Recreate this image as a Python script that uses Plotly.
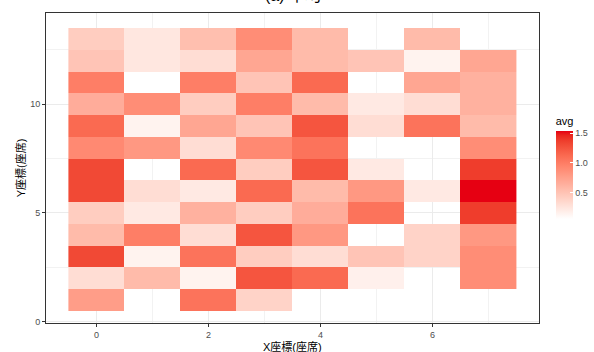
import plotly.graph_objects as go

# ---- data ----
x_vals = [0, 1, 2, 3, 4, 5, 6, 7]
y_vals = [1, 2, 3, 4, 5, 6, 7, 8, 9, 10, 11, 12, 13]
# one list per x column, values for y = 1..13 (None = no tile)
col0 = [0.78, 0.32, 1.32, 0.57, 0.44, 1.32, 1.32, 0.92, 1.13, 0.67, 1.00, 0.50, 0.44]
col1 = [None, 0.57, 0.16, 1.00, 0.23, 0.32, None, 0.82, 0.16, 0.89, 0.07, 0.25, 0.25]
col2 = [1.07, 0.16, 1.07, 0.32, 0.64, 0.23, 1.13, 0.32, 0.72, 0.44, 1.00, 0.32, 0.54]
col3 = [0.39, 1.25, 0.44, 1.25, 0.44, 1.13, 0.44, 0.92, 0.50, 1.00, 0.50, 0.72, 0.89]
col4 = [None, 1.13, 0.32, 0.82, 0.67, 0.57, 1.25, 1.07, 1.25, 0.57, 1.13, 0.57, 0.57]
col5 = [None, 0.18, 0.50, None, 1.07, 0.82, 0.23, None, 0.32, 0.23, None, 0.50, None]
col6 = [None, None, 0.39, 0.39, None, 0.23, None, None, 1.07, 0.32, 0.72, 0.16, 0.57]
col7 = [None, 0.89, 0.89, 0.82, 1.38, 1.54, 1.38, 0.89, 0.57, 0.64, 0.64, 0.72, None]
columns = [col0, col1, col2, col3, col4, col5, col6, col7]

x_ticks = [0, 2, 4, 6]
y_ticks = [0, 5, 10]
cbar_ticks = [0.5, 1.0, 1.5]

title_text = "(a) 平均"
x_title = "X座標(座席)"
y_title = "Y座標(座席)"
legend_title = "avg"

# z matrix: rows = y, cols = x
z = [[columns[i][j] for i in range(len(x_vals))] for j in range(len(y_vals))]


# ---- Lab colour interpolation (like ggplot's scale_fill_gradient) ----
def srgb_to_lin(c):
    c = c / 255.0
    return c / 12.92 if c <= 0.04045 else ((c + 0.055) / 1.055) ** 2.4


def lin_to_srgb(c):
    c = max(0.0, min(1.0, c))
    v = 12.92 * c if c <= 0.0031308 else 1.055 * c ** (1 / 2.4) - 0.055
    return int(round(v * 255))


def rgb_to_lab(rgb):
    r, g, b = [srgb_to_lin(v) for v in rgb]
    X = 0.4124 * r + 0.3576 * g + 0.1805 * b
    Y = 0.2126 * r + 0.7152 * g + 0.0722 * b
    Z = 0.0193 * r + 0.1192 * g + 0.9505 * b
    def f(t):
        return t ** (1 / 3) if t > 0.008856 else 7.787 * t + 16 / 116
    fx, fy, fz = f(X / 0.95047), f(Y), f(Z / 1.08883)
    return (116 * fy - 16, 500 * (fx - fy), 200 * (fy - fz))


def lab_to_rgb(lab):
    L, a, b = lab
    fy = (L + 16) / 116
    fx = fy + a / 500
    fz = fy - b / 200
    def finv(t):
        return t ** 3 if t ** 3 > 0.008856 else (t - 16 / 116) / 7.787
    X, Y, Z = 0.95047 * finv(fx), finv(fy), 1.08883 * finv(fz)
    r = 3.2406 * X - 1.5372 * Y - 0.4986 * Z
    g = -0.9689 * X + 1.8758 * Y + 0.0415 * Z
    bb = 0.0557 * X - 0.2040 * Y + 1.0570 * Z
    return (lin_to_srgb(r), lin_to_srgb(g), lin_to_srgb(bb))


low = rgb_to_lab((255, 255, 255))
high = rgb_to_lab((230, 0, 18))
n = 20
colorscale = []
for k in range(n + 1):
    t = k / n
    lab = tuple(low[i] + (high[i] - low[i]) * t for i in range(3))
    r, g, b = lab_to_rgb(lab)
    colorscale.append([t, f"rgb({r},{g},{b})"])

font_family = "Liberation Sans, Arial, Noto Sans CJK JP, sans-serif"

fig = go.Figure()
fig.add_trace(go.Heatmap(
    x=x_vals, y=y_vals, z=z,
    colorscale=colorscale,
    hoverongaps=False,
    colorbar=dict(
        title=dict(text=legend_title, side="top",
                   font=dict(size=11, color="#000000", family=font_family)),
        x=1.034, xanchor="left", xref="paper",
        y=0.506, yanchor="middle", yref="paper",
        len=105, lenmode="pixels",
        thickness=17, thicknessmode="pixels",
        outlinewidth=0,
        ticks="inside", ticklen=3, tickcolor="white", tickwidth=1,
        tickvals=cbar_ticks, tickformat=".1f",
        tickfont=dict(size=9, color="#4D4D4D", family=font_family),
        xpad=0, ypad=0,
    ),
))

# plot title (cut off at the top edge, as in the reference)
fig.add_annotation(
    text=title_text, xref="paper", yref="paper", x=0.5, y=1.0,
    xanchor="center", yanchor="bottom", yshift=7, showarrow=False,
    font=dict(size=16, color="#000000", family=font_family),
)
# x-axis title
fig.add_annotation(
    text=x_title, xref="paper", yref="paper", x=0.5, y=0.0,
    xanchor="center", yanchor="middle", yshift=-23, showarrow=False,
    font=dict(size=11, color="#000000", family=font_family),
)

fig.update_layout(
    width=594, height=352,
    margin=dict(l=46, r=55, t=13, b=29, autoexpand=False),
    paper_bgcolor="white", plot_bgcolor="white",
    font=dict(family=font_family),
    showlegend=False,
)

fig.update_xaxes(
    range=[-0.9, 7.9], automargin=False,
    tickvals=x_ticks,
    ticks="outside", ticklen=3, tickcolor="#333333", tickwidth=1,
    tickfont=dict(size=9, color="#4D4D4D", family=font_family),
    showgrid=True, gridcolor="#EBEBEB", gridwidth=1,
    minor=dict(dtick=1, tick0=1, showgrid=True, gridcolor="#F2F2F2", gridwidth=0.6, ticks=""),
    showline=True, linecolor="#333333", linewidth=1, mirror=True,
    zeroline=False,
)
fig.update_yaxes(
    range=[-0.07, 14.19], automargin=False,
    tickvals=y_ticks,
    ticks="outside", ticklen=3, tickcolor="#333333", tickwidth=1,
    tickfont=dict(size=9, color="#4D4D4D", family=font_family),
    showgrid=True, gridcolor="#EBEBEB", gridwidth=1,
    minor=dict(dtick=2.5, tick0=0, showgrid=True, gridcolor="#F2F2F2", gridwidth=0.6, ticks=""),
    showline=True, linecolor="#333333", linewidth=1, mirror=True,
    zeroline=False,
    title=dict(text=y_title, font=dict(size=11, color="#000000", family=font_family), standoff=2),
)

fig.write_html("out.html", config={"displayModeBar": False},
               post_script="document.body.style.margin='0px';")
